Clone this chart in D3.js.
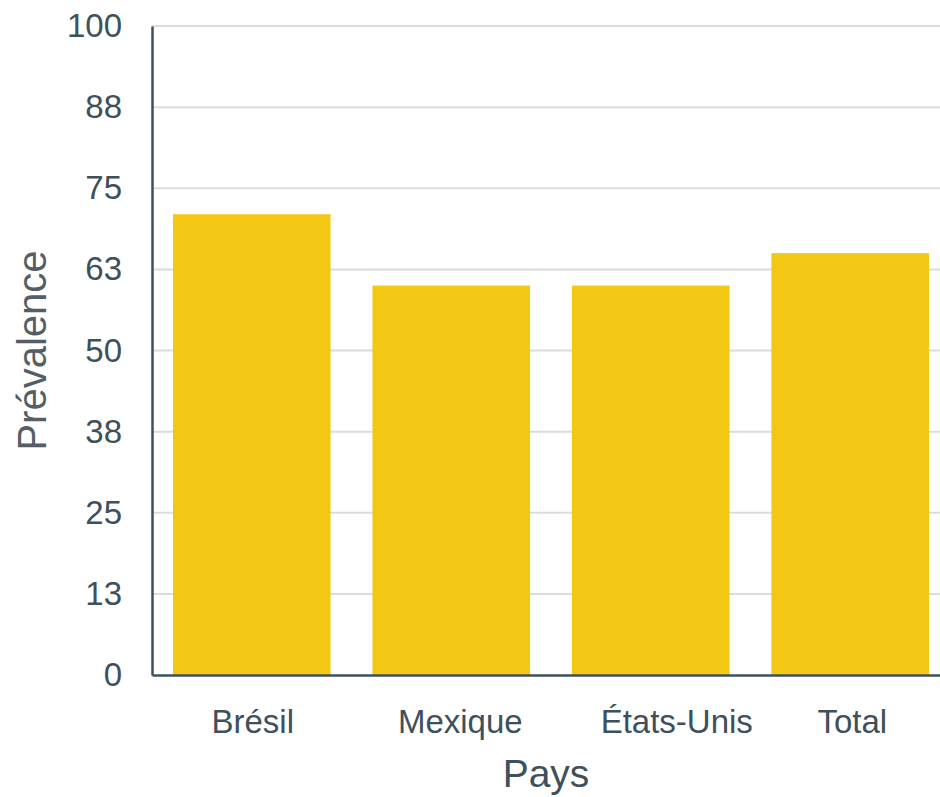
<!DOCTYPE html>
<html>
<head>
<meta charset="utf-8">
<script src="https://cdn.jsdelivr.net/npm/d3@7"></script>
<style>
  html, body { margin: 0; padding: 0; background: #fff; }
  svg { display: block; }
  text { font-family: "Liberation Sans", Arial, sans-serif; }
</style>
</head>
<body>
<svg id="chart" width="940" height="797"></svg>
<script>
const categories = ["Brésil", "Mexique", "États-Unis", "Total"];
const values = [71, 60, 60, 65];
const yTicks = [0, 12.5, 25, 37.5, 50, 62.5, 75, 87.5, 100];
const xTitle = "Pays";
const yTitle = "Prévalence";

(function () {
const svg = d3.select("#chart");
const mLeft = 152, mRight = 950, mTop = 26, mBottom = 675;
const textColor = "#3e505c";
// small horizontal nudges of the category labels, as in the reference layout
const labelNudge = { "Brésil": 1, "Mexique": 9, "États-Unis": 26, "Total": 2 };

const x = d3.scaleBand().domain(categories).range([mLeft, mRight])
  .paddingInner(0.21).paddingOuter(0.105);
const y = d3.scaleLinear().domain([0, 100]).range([mBottom, mTop]);

// gridlines
svg.append("g").selectAll("line").data(yTicks.filter(d => d > 0)).join("line")
  .attr("x1", mLeft).attr("x2", 940)
  .attr("y1", d => y(d)).attr("y2", d => y(d))
  .attr("stroke", "#dcdcdc").attr("stroke-width", 2);

// bars
svg.append("g").selectAll("rect").data(categories).join("rect")
  .attr("x", d => x(d)).attr("width", x.bandwidth())
  .attr("y", (d, i) => y(values[i]))
  .attr("height", (d, i) => y(0) - y(values[i]))
  .attr("fill", "#f2c814");

// y axis
const yAxis = svg.append("g").attr("transform", `translate(${mLeft},0)`)
  .call(d3.axisLeft(y).tickValues(yTicks).tickFormat(d => Math.round(d)).tickSize(0).tickPadding(30));
yAxis.select(".domain").attr("stroke", textColor).attr("stroke-width", 2.5);
yAxis.selectAll("text").attr("font-size", 33).attr("fill", textColor)
  .style("font-family", '"Liberation Sans", Arial, sans-serif');

// x axis
const xAxis = svg.append("g").attr("transform", `translate(0,${mBottom})`)
  .call(d3.axisBottom(x).tickSize(0).tickPadding(35));
xAxis.select(".domain").attr("stroke", textColor).attr("stroke-width", 2.5);
xAxis.selectAll("text").attr("font-size", 33).attr("fill", textColor)
  .attr("dx", d => labelNudge[d] || 0)
  .style("font-family", '"Liberation Sans", Arial, sans-serif');

// titles
svg.append("text").attr("x", (mLeft + 940) / 2).attr("y", 787)
  .attr("text-anchor", "middle").attr("font-size", 39).attr("fill", textColor)
  .text(xTitle);
svg.append("text")
  .attr("transform", `translate(46,${(mTop + mBottom) / 2}) rotate(-90)`)
  .attr("text-anchor", "middle").attr("font-size", 40).attr("fill", "#555e64")
  .text(yTitle);
})();
</script>
</body>
</html>
